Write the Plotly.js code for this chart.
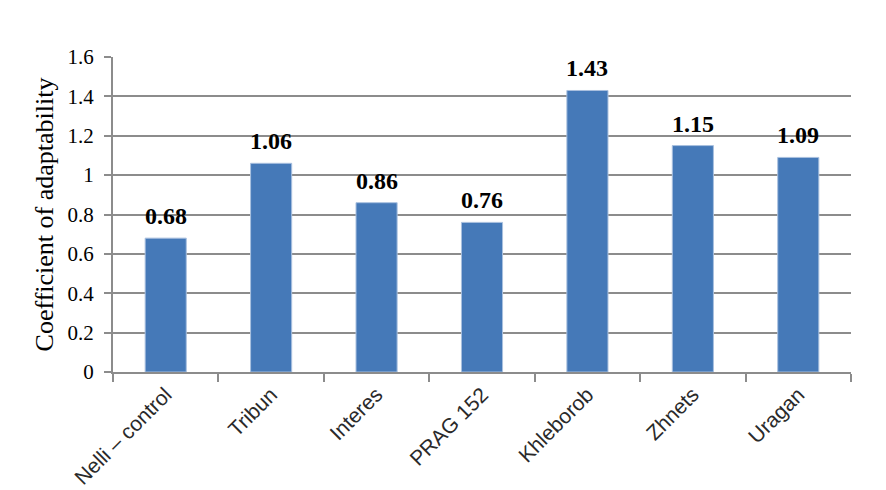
<!DOCTYPE html>
<html><head><meta charset="utf-8">
<script src="https://cdn.plot.ly/plotly-3.0.1.min.js"></script>
<style>html,body{margin:0;padding:0;background:#fff;}#chart{width:886px;height:490px;}</style>
</head><body><div id="chart"></div>
<script>
const categories = ["Nelli – control", "Tribun", "Interes", "PRAG 152", "Khleborob", "Zhnets", "Uragan"];
const coefficients = [0.68, 1.06, 0.86, 0.76, 1.43, 1.15, 1.09];
const yTicks = [0, 0.2, 0.4, 0.6, 0.8, 1, 1.2, 1.4, 1.6];

const trace = {
  type: 'bar',
  x: categories,
  y: coefficients,
  marker: {color: '#4579b8', line: {color: '#a9c0df', width: 1}},
  hoverinfo: 'none'
};

const valueLabels = categories.map((c, i) => ({
  x: c, y: coefficients[i], xref: 'x', yref: 'y',
  text: '<b>' + coefficients[i].toFixed(2) + '</b>',
  showarrow: false, yanchor: 'bottom', yshift: 7,
  font: {family: 'Liberation Serif, Times New Roman, serif', size: 24, color: '#000'}
}));

const layout = {
  width: 886, height: 490,
  margin: {l: 113, r: 35, t: 57, b: 118},
  paper_bgcolor: '#fff', plot_bgcolor: '#fff',
  bargap: 0.61,
  showlegend: false,
  annotations: valueLabels,
  xaxis: {
    type: 'category',
    tickangle: -45,
    ticks: 'outside', tickson: 'boundaries', ticklen: 8, tickcolor: '#8c8c8c', tickwidth: 2,
    showline: true, linecolor: '#8c8c8c', linewidth: 2,
    showgrid: false,
    tickfont: {family: 'Liberation Sans, Arial, sans-serif', size: 21, color: '#2a2a2a'}
  },
  yaxis: {
    range: [0, 1.6],
    tickvals: yTicks,
    ticktext: yTicks.map(v => String(v)),
    ticks: 'outside', ticklen: 7, tickcolor: '#8c8c8c', tickwidth: 2,
    ticklabelstandoff: 6,
    showline: true, linecolor: '#8c8c8c', linewidth: 2,
    showgrid: true, gridcolor: '#8c8c8c', gridwidth: 2,
    zeroline: false,
    tickfont: {family: 'Liberation Serif, Times New Roman, serif', size: 21, color: '#000'},
    title: {text: 'Coefficient of adaptability', standoff: 6,
      font: {family: 'Liberation Serif, Times New Roman, serif', size: 26, color: '#000'}}
  }
};

Plotly.newPlot('chart', [trace], layout, {displayModeBar: false, staticPlot: true});
</script>
</body></html>
